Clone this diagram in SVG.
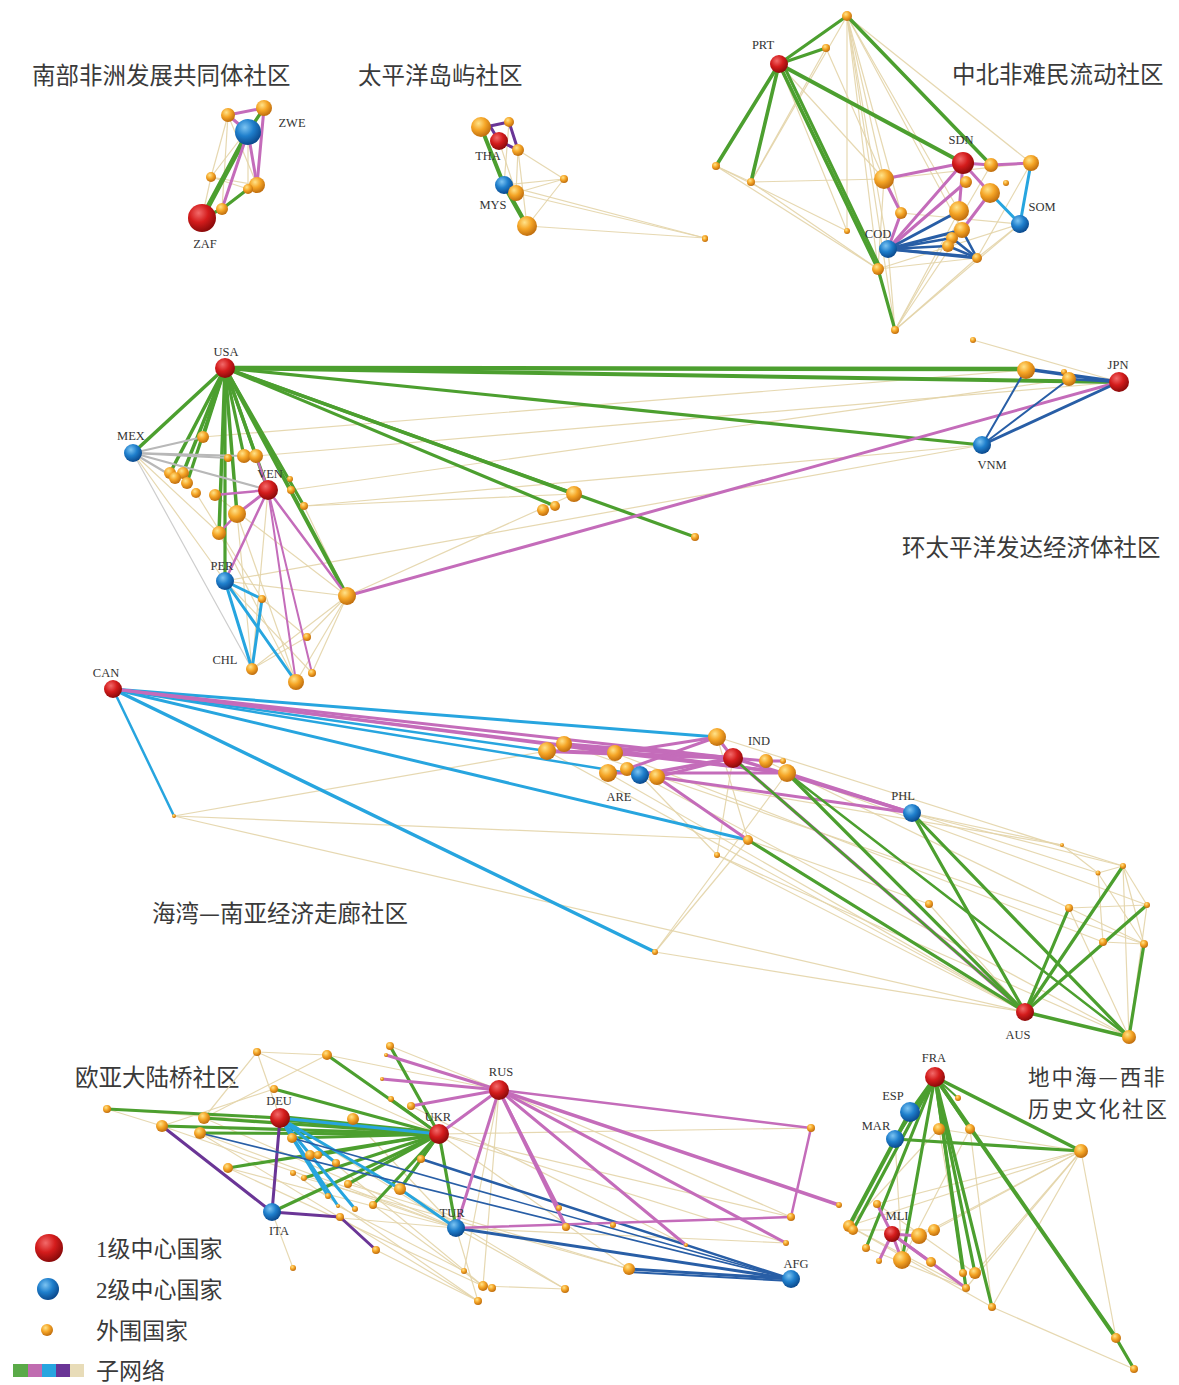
<svg xmlns="http://www.w3.org/2000/svg" width="1179" height="1385" viewBox="0 0 1179 1385">
<defs>
<radialGradient id="gr" cx="38%" cy="32%" r="68%"><stop offset="0" stop-color="#f26a6a"/><stop offset="0.5" stop-color="#d41c1c"/><stop offset="1" stop-color="#8c0a0a"/></radialGradient>
<radialGradient id="gb" cx="38%" cy="32%" r="68%"><stop offset="0" stop-color="#7cc4f2"/><stop offset="0.5" stop-color="#1f7fcc"/><stop offset="1" stop-color="#0b4a8e"/></radialGradient>
<radialGradient id="go" cx="38%" cy="32%" r="68%"><stop offset="0" stop-color="#ffe38a"/><stop offset="0.5" stop-color="#f5a526"/><stop offset="1" stop-color="#c06e0e"/></radialGradient>
<style>
.r{fill:url(#gr)}.b{fill:url(#gb)}.o{fill:url(#go)}
line{stroke-linecap:round;fill:none}
.t{stroke:#e3d4a8;stroke-width:1.2;opacity:.9}
.g{stroke:#4c9f2f;stroke-width:3.2}
.p{stroke:#c46cba;stroke-width:3}
.c{stroke:#27a5df;stroke-width:3}
.v{stroke:#6a3596;stroke-width:3}
.d{stroke:#285ea6;stroke-width:2.6}
.gy{stroke:#b8b8b8;stroke-width:2.2}
.lb{font-family:"Liberation Serif",serif;font-size:12.5px;fill:#333;text-anchor:middle}
.ti{font-family:"Noto Sans CJK SC",sans-serif;font-size:23.5px;fill:#3a3a3a}
.ti2{font-family:"Noto Sans CJK SC",sans-serif;font-size:21.5px;letter-spacing:2px;fill:#3a3a3a}
.lg{font-family:"Liberation Serif","Noto Sans CJK SC",sans-serif;font-size:23px;fill:#3a3a3a}
</style>
</defs>
<rect width="1179" height="1385" fill="#fff"/>

<g id="titles">
<text class="ti" x="32" y="84">南部非洲发展共同体社区</text>
<text class="ti" x="358" y="84">太平洋岛屿社区</text>
<text class="ti" x="952" y="83">中北非难民流动社区</text>
<text class="ti" x="902" y="556">环太平洋发达经济体社区</text>
<text class="ti" x="152" y="922">海湾—南亚经济走廊社区</text>
<text class="ti" x="75" y="1086">欧亚大陆桥社区</text>
<text class="ti2" x="1028" y="1085">地中海—西非</text>
<text class="ti2" x="1028" y="1117">历史文化社区</text>
</g>

<g id="connectors">
<!-- community 1 -->
<line class="t" x1="228" y1="115" x2="211" y2="177"/><line class="t" x1="228" y1="115" x2="257" y2="185"/><line class="t" x1="264" y1="108" x2="211" y2="177"/><line class="t" x1="211" y1="177" x2="202" y2="218"/><line class="t" x1="211" y1="177" x2="257" y2="185"/><line class="t" x1="211" y1="177" x2="248" y2="189"/><line class="t" x1="228" y1="115" x2="222" y2="209"/><line class="t" x1="248" y1="132" x2="248" y2="189"/>
<line class="g" x1="202" y1="218" x2="248" y2="132" style="stroke-width:5"/><line class="g" x1="248" y1="132" x2="264" y2="108"/><line class="g" x1="202" y1="218" x2="222" y2="209"/><line class="g" x1="222" y1="209" x2="248" y2="189"/>
<line class="p" x1="228" y1="115" x2="264" y2="108"/><line class="p" x1="248" y1="132" x2="257" y2="185"/><line class="p" x1="264" y1="108" x2="257" y2="185"/><line class="p" x1="248" y1="132" x2="222" y2="209"/><line class="p" x1="228" y1="115" x2="248" y2="132"/>
<!-- community 2 -->
<line class="t" x1="518" y1="150" x2="564" y2="179"/><line class="t" x1="516" y1="193" x2="564" y2="179"/><line class="t" x1="516" y1="193" x2="705" y2="238"/><line class="t" x1="527" y1="226" x2="705" y2="238"/><line class="t" x1="504" y1="185" x2="705" y2="238"/><line class="t" x1="499" y1="141" x2="516" y2="193"/><line class="t" x1="518" y1="150" x2="516" y2="193"/><line class="t" x1="518" y1="150" x2="527" y2="226"/><line class="t" x1="564" y1="179" x2="527" y2="226"/><line class="t" x1="504" y1="185" x2="564" y2="179"/><line class="t" x1="509" y1="122" x2="504" y2="185"/>
<line class="g" x1="481" y1="127" x2="504" y2="185" style="stroke-width:4"/><line class="g" x1="504" y1="185" x2="527" y2="226" style="stroke-width:4.5"/>
<line class="v" x1="490" y1="126" x2="509" y2="122"/><line class="v" x1="509" y1="122" x2="518" y2="150"/><line class="v" x1="499" y1="141" x2="518" y2="150"/><line class="v" x1="490" y1="126" x2="499" y2="141"/>
<!-- community 3 -->
<line class="t" x1="847" y1="16" x2="884" y2="179"/><line class="t" x1="847" y1="16" x2="901" y2="213"/><line class="t" x1="847" y1="16" x2="888" y2="249"/><line class="t" x1="847" y1="16" x2="959" y2="211"/><line class="t" x1="847" y1="16" x2="878" y2="269"/><line class="t" x1="847" y1="16" x2="1031" y2="163"/><line class="t" x1="847" y1="16" x2="847" y2="231"/><line class="t" x1="847" y1="16" x2="895" y2="330"/><line class="t" x1="847" y1="16" x2="962" y2="230"/><line class="t" x1="847" y1="16" x2="751" y2="182"/><line class="t" x1="779" y1="64" x2="847" y2="231"/><line class="t" x1="779" y1="64" x2="884" y2="179"/><line class="t" x1="716" y1="166" x2="878" y2="269"/><line class="t" x1="716" y1="166" x2="847" y2="231"/><line class="t" x1="751" y1="182" x2="884" y2="179"/><line class="t" x1="751" y1="182" x2="878" y2="269"/><line class="t" x1="716" y1="166" x2="751" y2="182"/><line class="t" x1="888" y1="249" x2="895" y2="330"/><line class="t" x1="962" y1="230" x2="895" y2="330"/><line class="t" x1="977" y1="258" x2="895" y2="330"/><line class="t" x1="1020" y1="224" x2="895" y2="330"/><line class="t" x1="1020" y1="224" x2="878" y2="269"/><line class="t" x1="1020" y1="224" x2="977" y2="258"/><line class="t" x1="1031" y1="163" x2="977" y2="258"/><line class="t" x1="884" y1="179" x2="878" y2="269"/><line class="t" x1="991" y1="165" x2="895" y2="330"/><line class="t" x1="826" y1="48" x2="884" y2="179"/><line class="t" x1="826" y1="48" x2="751" y2="182"/><line class="t" x1="959" y1="211" x2="895" y2="330"/><line class="t" x1="884" y1="179" x2="1031" y2="163"/><line class="t" x1="878" y1="269" x2="977" y2="258"/><line class="t" x1="901" y1="213" x2="1020" y2="224"/>
<line class="g" x1="847" y1="16" x2="779" y2="64"/><line class="g" x1="779" y1="64" x2="826" y2="48"/><line class="g" x1="779" y1="64" x2="716" y2="166" style="stroke-width:3.6"/><line class="g" x1="779" y1="64" x2="751" y2="182" style="stroke-width:3.6"/><line class="g" x1="779" y1="64" x2="963" y2="163" style="stroke-width:4"/><line class="g" x1="779" y1="64" x2="878" y2="269" style="stroke-width:3.6"/><line class="g" x1="783" y1="64" x2="880" y2="267" style="stroke-width:3"/><line class="g" x1="878" y1="269" x2="895" y2="330"/><line class="g" x1="847" y1="16" x2="991" y2="165" style="stroke-width:3.5"/>
<line class="p" x1="963" y1="163" x2="884" y2="179"/><line class="p" x1="884" y1="179" x2="901" y2="213"/><line class="p" x1="901" y1="213" x2="888" y2="249"/><line class="p" x1="963" y1="163" x2="888" y2="249"/><line class="p" x1="966" y1="182" x2="888" y2="249"/><line class="p" x1="963" y1="163" x2="991" y2="165"/><line class="p" x1="991" y1="165" x2="1031" y2="163"/><line class="p" x1="963" y1="163" x2="959" y2="211"/><line class="p" x1="963" y1="163" x2="990" y2="193"/><line class="p" x1="990" y1="193" x2="962" y2="230"/>
<line class="c" x1="1031" y1="163" x2="1020" y2="224"/><line class="c" x1="990" y1="193" x2="1020" y2="224"/>
<line class="d" x1="888" y1="249" x2="959" y2="211" style="stroke-width:3"/><line class="d" x1="888" y1="249" x2="962" y2="230" style="stroke-width:3"/><line class="d" x1="888" y1="249" x2="952" y2="238"/><line class="d" x1="888" y1="249" x2="948" y2="246"/><line class="d" x1="888" y1="249" x2="977" y2="258" style="stroke-width:3"/><line class="d" x1="962" y1="230" x2="977" y2="258"/><line class="d" x1="952" y1="238" x2="977" y2="258"/><line class="d" x1="948" y1="246" x2="977" y2="258"/><line class="d" x1="888" y1="249" x2="966" y2="256"/>
<!-- community 4 -->
<line class="t" x1="973" y1="340" x2="1119" y2="382"/><line class="t" x1="203" y1="437" x2="1026" y2="370"/><line class="t" x1="291" y1="490" x2="1069" y2="379"/><line class="t" x1="304" y1="506" x2="982" y2="445"/><line class="t" x1="225" y1="581" x2="982" y2="445"/><line class="t" x1="225" y1="368" x2="1119" y2="382"/><line class="t" x1="256" y1="456" x2="1119" y2="382"/><line class="t" x1="133" y1="453" x2="252" y2="669" style="stroke:#c8c8c8"/><line class="t" x1="133" y1="453" x2="219" y2="533"/><line class="t" x1="133" y1="453" x2="225" y2="581"/><line class="t" x1="237" y1="514" x2="252" y2="669"/><line class="t" x1="237" y1="514" x2="296" y2="682"/><line class="t" x1="225" y1="581" x2="347" y2="596"/><line class="t" x1="262" y1="599" x2="307" y2="637"/><line class="t" x1="347" y1="596" x2="296" y2="682"/><line class="t" x1="347" y1="596" x2="312" y2="673"/><line class="t" x1="347" y1="596" x2="252" y2="669"/><line class="t" x1="347" y1="596" x2="307" y2="637"/><line class="t" x1="219" y1="533" x2="296" y2="682"/><line class="t" x1="225" y1="581" x2="312" y2="673"/><line class="t" x1="215" y1="495" x2="347" y2="596"/><line class="t" x1="268" y1="490" x2="252" y2="669"/><line class="t" x1="304" y1="506" x2="347" y2="596"/><line class="t" x1="196" y1="493" x2="262" y2="599"/><line class="t" x1="304" y1="506" x2="574" y2="494"/><line class="t" x1="347" y1="596" x2="574" y2="494"/><line class="t" x1="252" y1="669" x2="307" y2="637"/>
<line class="g" x1="225" y1="368" x2="1026" y2="369" style="stroke-width:4.5"/><line class="g" x1="225" y1="368" x2="1119" y2="382" style="stroke-width:4"/><line class="g" x1="225" y1="368" x2="982" y2="445"/><line class="g" x1="225" y1="368" x2="574" y2="494" style="stroke-width:3.5"/><line class="g" x1="225" y1="368" x2="555" y2="506"/><line class="g" x1="225" y1="368" x2="695" y2="537"/><line class="g" x1="225" y1="368" x2="133" y2="453" style="stroke-width:3.5"/><line class="g" x1="225" y1="368" x2="203" y2="437" style="stroke-width:3.5"/><line class="g" x1="225" y1="368" x2="170" y2="473" style="stroke-width:3.5"/><line class="g" x1="225" y1="368" x2="183" y2="473" style="stroke-width:3.5"/><line class="g" x1="225" y1="368" x2="187" y2="483"/><line class="g" x1="225" y1="368" x2="219" y2="533" style="stroke-width:3.5"/><line class="g" x1="225" y1="368" x2="237" y2="514" style="stroke-width:3.5"/><line class="g" x1="225" y1="368" x2="225" y2="581"/><line class="g" x1="225" y1="368" x2="268" y2="490" style="stroke-width:3.5"/><line class="g" x1="225" y1="368" x2="244" y2="456"/><line class="g" x1="225" y1="368" x2="256" y2="456"/><line class="g" x1="225" y1="368" x2="304" y2="506"/><line class="g" x1="225" y1="368" x2="347" y2="596" style="stroke-width:4"/>
<line class="gy" x1="133" y1="453" x2="203" y2="437"/><line class="gy" x1="133" y1="453" x2="228" y2="458"/><line class="gy" x1="133" y1="453" x2="244" y2="456"/><line class="gy" x1="133" y1="453" x2="268" y2="490"/><line class="gy" x1="133" y1="453" x2="175" y2="478"/>
<line class="p" x1="268" y1="490" x2="215" y2="495" style="stroke-width:2.5"/><line class="p" x1="268" y1="490" x2="237" y2="514"/><line class="p" x1="237" y1="514" x2="219" y2="533" style="stroke-width:2.5"/><line class="p" x1="268" y1="490" x2="225" y2="581" style="stroke-width:2.5"/><line class="p" x1="268" y1="490" x2="296" y2="682" style="stroke-width:2"/><line class="p" x1="268" y1="490" x2="312" y2="673" style="stroke-width:2"/><line class="p" x1="268" y1="490" x2="347" y2="596" style="stroke-width:2.5"/><line class="p" x1="347" y1="596" x2="1119" y2="382"/><line class="p" x1="268" y1="490" x2="256" y2="456" style="stroke-width:2.5"/>
<line class="c" x1="225" y1="581" x2="262" y2="599"/><line class="c" x1="225" y1="581" x2="252" y2="669"/><line class="c" x1="262" y1="599" x2="252" y2="669"/><line class="c" x1="225" y1="581" x2="296" y2="682"/>
<line class="d" x1="1026" y1="369" x2="1119" y2="382" style="stroke-width:3.5"/><line class="d" x1="1069" y1="379" x2="1119" y2="382"/><line class="d" x1="982" y1="445" x2="1026" y2="369" style="stroke-width:2"/><line class="d" x1="982" y1="445" x2="1069" y2="379" style="stroke-width:2"/><line class="d" x1="982" y1="445" x2="1119" y2="382" style="stroke-width:3"/>
<!-- community 5 -->
<line class="t" x1="547" y1="751" x2="1025" y2="1012"/><line class="t" x1="608" y1="773" x2="1025" y2="1012"/><line class="t" x1="640" y1="775" x2="1129" y2="1037"/><line class="t" x1="657" y1="777" x2="1062" y2="845"/><line class="t" x1="717" y1="737" x2="1123" y2="866"/><line class="t" x1="787" y1="773" x2="1147" y2="905"/><line class="t" x1="787" y1="773" x2="1098" y2="873"/><line class="t" x1="174" y1="816" x2="748" y2="840"/><line class="t" x1="174" y1="816" x2="1025" y2="1012"/><line class="t" x1="655" y1="952" x2="1025" y2="1012"/><line class="t" x1="655" y1="952" x2="748" y2="840"/><line class="t" x1="655" y1="952" x2="787" y2="773"/><line class="t" x1="717" y1="855" x2="1129" y2="1037"/><line class="t" x1="1098" y1="873" x2="1123" y2="866"/><line class="t" x1="1123" y1="866" x2="1147" y2="905"/><line class="t" x1="1123" y1="866" x2="1144" y2="944"/><line class="t" x1="1069" y1="908" x2="1144" y2="944"/><line class="t" x1="1103" y1="942" x2="1144" y2="944"/><line class="t" x1="1098" y1="873" x2="1144" y2="944"/><line class="t" x1="1147" y1="905" x2="1129" y2="1037"/><line class="t" x1="1069" y1="908" x2="1129" y2="1037"/><line class="t" x1="1123" y1="866" x2="1129" y2="1037"/><line class="t" x1="1062" y1="845" x2="1098" y2="873"/><line class="t" x1="929" y1="904" x2="1025" y2="1012"/><line class="t" x1="748" y1="840" x2="929" y2="904"/><line class="t" x1="717" y1="855" x2="1025" y2="1012"/><line class="t" x1="912" y1="813" x2="1123" y2="866"/><line class="t" x1="912" y1="813" x2="1062" y2="845"/><line class="t" x1="766" y1="761" x2="1069" y2="908"/><line class="t" x1="717" y1="737" x2="748" y2="840"/><line class="t" x1="640" y1="775" x2="717" y2="855"/><line class="t" x1="615" y1="753" x2="1103" y2="942"/><line class="t" x1="564" y1="744" x2="1144" y2="944"/><line class="t" x1="174" y1="816" x2="547" y2="751"/><line class="t" x1="733" y1="758" x2="717" y2="855"/><line class="t" x1="1098" y1="873" x2="1103" y2="942"/><line class="t" x1="1069" y1="908" x2="1147" y2="905"/><line class="t" x1="113" y1="689" x2="787" y2="773"/>
<line class="c" x1="113" y1="689" x2="717" y2="737"/><line class="c" x1="113" y1="689" x2="547" y2="751" style="stroke-width:2.5"/><line class="c" x1="113" y1="689" x2="640" y2="775" style="stroke-width:2.5"/><line class="c" x1="113" y1="689" x2="748" y2="840"/><line class="c" x1="113" y1="689" x2="174" y2="816" style="stroke-width:2.5"/><line class="c" x1="113" y1="689" x2="655" y2="952" style="stroke-width:3.5"/>
<line class="p" x1="113" y1="689" x2="733" y2="758"/><line class="p" x1="113" y1="689" x2="787" y2="773"/><line class="p" x1="113" y1="689" x2="615" y2="753" style="stroke-width:2.5"/><line class="p" x1="547" y1="751" x2="733" y2="758" style="stroke-width:4"/><line class="p" x1="564" y1="744" x2="733" y2="758" style="stroke-width:3.5"/><line class="p" x1="615" y1="753" x2="717" y2="737"/><line class="p" x1="615" y1="753" x2="787" y2="773"/><line class="p" x1="640" y1="775" x2="733" y2="758" style="stroke-width:3.5"/><line class="p" x1="657" y1="777" x2="733" y2="758"/><line class="p" x1="657" y1="777" x2="912" y2="813"/><line class="p" x1="733" y1="758" x2="912" y2="813" style="stroke-width:3.5"/><line class="p" x1="787" y1="773" x2="912" y2="813"/><line class="p" x1="717" y1="737" x2="733" y2="758"/><line class="p" x1="608" y1="773" x2="787" y2="773"/><line class="p" x1="733" y1="758" x2="766" y2="761"/><line class="p" x1="766" y1="761" x2="783" y2="761"/><line class="p" x1="657" y1="777" x2="748" y2="840"/><line class="p" x1="733" y1="758" x2="1025" y2="1012" style="stroke-width:3.5"/><line class="p" x1="564" y1="744" x2="787" y2="773"/><line class="p" x1="627" y1="769" x2="717" y2="737"/>
<line class="g" x1="748" y1="840" x2="1025" y2="1012"/><line class="g" x1="912" y1="813" x2="1025" y2="1012"/><line class="g" x1="912" y1="813" x2="1129" y2="1037"/><line class="g" x1="733" y1="758" x2="1025" y2="1012" style="stroke-width:2.5"/><line class="g" x1="787" y1="773" x2="1025" y2="1012"/><line class="g" x1="787" y1="773" x2="1129" y2="1037" style="stroke-width:2.5"/><line class="g" x1="1025" y1="1012" x2="1069" y2="908"/><line class="g" x1="1025" y1="1012" x2="1123" y2="866"/><line class="g" x1="1025" y1="1012" x2="1147" y2="905"/><line class="g" x1="1025" y1="1012" x2="1129" y2="1037" style="stroke-width:3.5"/><line class="g" x1="1129" y1="1037" x2="1144" y2="944"/>
<!-- community 6 -->
<line class="t" x1="257" y1="1052" x2="327" y2="1055"/><line class="t" x1="257" y1="1052" x2="439" y2="1134"/><line class="t" x1="257" y1="1052" x2="280" y2="1118"/><line class="t" x1="107" y1="1109" x2="162" y2="1126"/><line class="t" x1="162" y1="1126" x2="456" y2="1228"/><line class="t" x1="204" y1="1118" x2="456" y2="1228"/><line class="t" x1="280" y1="1118" x2="456" y2="1228"/><line class="t" x1="280" y1="1118" x2="483" y2="1286"/><line class="t" x1="272" y1="1212" x2="293" y2="1268"/><line class="t" x1="272" y1="1212" x2="456" y2="1228"/><line class="t" x1="228" y1="1168" x2="483" y2="1286"/><line class="t" x1="200" y1="1133" x2="478" y2="1301"/><line class="t" x1="456" y1="1228" x2="478" y2="1301"/><line class="t" x1="456" y1="1228" x2="565" y2="1289"/><line class="t" x1="483" y1="1286" x2="565" y2="1289"/><line class="t" x1="439" y1="1134" x2="629" y2="1269"/><line class="t" x1="499" y1="1090" x2="483" y2="1286"/><line class="t" x1="499" y1="1090" x2="464" y2="1271"/><line class="t" x1="439" y1="1134" x2="791" y2="1217"/><line class="t" x1="327" y1="1055" x2="499" y2="1090"/><line class="t" x1="390" y1="1046" x2="499" y2="1090"/><line class="t" x1="456" y1="1228" x2="786" y2="1243"/><line class="t" x1="411" y1="1106" x2="686" y2="1245"/><line class="t" x1="162" y1="1126" x2="439" y2="1134"/><line class="t" x1="107" y1="1109" x2="439" y2="1134"/><line class="t" x1="200" y1="1133" x2="456" y2="1228"/><line class="t" x1="228" y1="1168" x2="456" y2="1228"/><line class="t" x1="304" y1="1178" x2="629" y2="1269"/><line class="t" x1="348" y1="1184" x2="629" y2="1269"/><line class="t" x1="400" y1="1189" x2="565" y2="1289"/><line class="t" x1="373" y1="1205" x2="483" y2="1286"/><line class="t" x1="338" y1="1206" x2="464" y2="1271"/><line class="t" x1="439" y1="1134" x2="786" y2="1243"/><line class="t" x1="499" y1="1090" x2="791" y2="1217"/><line class="t" x1="257" y1="1052" x2="204" y2="1118"/><line class="t" x1="327" y1="1055" x2="204" y2="1118"/><line class="t" x1="274" y1="1089" x2="162" y2="1126"/><line class="t" x1="353" y1="1119" x2="456" y2="1228"/><line class="t" x1="293" y1="1173" x2="478" y2="1301"/><line class="t" x1="376" y1="1250" x2="478" y2="1301"/><line class="t" x1="421" y1="1159" x2="791" y2="1279"/><line class="t" x1="439" y1="1134" x2="811" y2="1128"/>
<line class="g" x1="280" y1="1118" x2="439" y2="1134" style="stroke-width:6"/><line class="g" x1="107" y1="1109" x2="280" y2="1118"/><line class="g" x1="162" y1="1126" x2="439" y2="1134"/><line class="g" x1="204" y1="1118" x2="439" y2="1134"/><line class="g" x1="200" y1="1133" x2="439" y2="1134"/><line class="g" x1="327" y1="1055" x2="439" y2="1134"/><line class="g" x1="274" y1="1089" x2="439" y2="1134"/><line class="g" x1="390" y1="1046" x2="439" y2="1134"/><line class="g" x1="391" y1="1099" x2="439" y2="1134" style="stroke-width:2.5"/><line class="g" x1="228" y1="1168" x2="439" y2="1134"/><line class="g" x1="272" y1="1212" x2="439" y2="1134"/><line class="g" x1="304" y1="1178" x2="439" y2="1134"/><line class="g" x1="318" y1="1155" x2="439" y2="1134"/><line class="g" x1="348" y1="1184" x2="439" y2="1134"/><line class="g" x1="400" y1="1189" x2="439" y2="1134"/><line class="g" x1="373" y1="1205" x2="439" y2="1134"/><line class="g" x1="439" y1="1134" x2="456" y2="1228"/><line class="g" x1="421" y1="1159" x2="439" y2="1134"/><line class="g" x1="292" y1="1138" x2="439" y2="1134"/>
<line class="c" x1="280" y1="1118" x2="439" y2="1134"/><line class="c" x1="280" y1="1118" x2="328" y2="1196"/><line class="c" x1="280" y1="1118" x2="355" y2="1209"/><line class="c" x1="280" y1="1118" x2="336" y2="1163"/><line class="c" x1="280" y1="1118" x2="338" y2="1206"/><line class="c" x1="280" y1="1118" x2="400" y2="1189"/><line class="c" x1="400" y1="1189" x2="456" y2="1228"/>
<line class="v" x1="162" y1="1126" x2="272" y2="1212"/><line class="v" x1="280" y1="1118" x2="272" y2="1212"/><line class="v" x1="272" y1="1212" x2="340" y2="1217"/><line class="v" x1="340" y1="1217" x2="376" y2="1250"/>
<line class="d" x1="200" y1="1133" x2="791" y2="1279" style="stroke-width:1.8"/><line class="d" x1="292" y1="1138" x2="791" y2="1279" style="stroke-width:1.5"/><line class="d" x1="421" y1="1159" x2="791" y2="1279"/><line class="d" x1="456" y1="1228" x2="791" y2="1279" style="stroke-width:3"/><line class="d" x1="629" y1="1269" x2="791" y2="1279" style="stroke-width:3"/><line class="d" x1="629" y1="1272" x2="791" y2="1281" style="stroke-width:2"/>
<line class="p" x1="499" y1="1090" x2="386" y2="1055"/><line class="p" x1="499" y1="1090" x2="382" y2="1079"/><line class="p" x1="499" y1="1090" x2="411" y2="1106"/><line class="p" x1="499" y1="1090" x2="439" y2="1134"/><line class="p" x1="499" y1="1090" x2="456" y2="1228"/><line class="p" x1="499" y1="1090" x2="566" y2="1227" style="stroke-width:3.5"/><line class="p" x1="499" y1="1090" x2="559" y2="1208" style="stroke-width:2.5"/><line class="p" x1="499" y1="1090" x2="686" y2="1245"/><line class="p" x1="499" y1="1090" x2="786" y2="1243"/><line class="p" x1="499" y1="1090" x2="839" y2="1205" style="stroke-width:3.5"/><line class="p" x1="499" y1="1090" x2="811" y2="1128" style="stroke-width:2.5"/><line class="p" x1="811" y1="1128" x2="791" y2="1217" style="stroke-width:2.5"/><line class="p" x1="791" y1="1217" x2="456" y2="1228" style="stroke-width:2.5"/>
<!-- community 7 -->
<line class="t" x1="1081" y1="1151" x2="877" y2="1204"/><line class="t" x1="1081" y1="1151" x2="919" y2="1236"/><line class="t" x1="1081" y1="1151" x2="966" y2="1288"/><line class="t" x1="1081" y1="1151" x2="992" y2="1307"/><line class="t" x1="1081" y1="1151" x2="849" y2="1226"/><line class="t" x1="939" y1="1129" x2="1081" y2="1151"/><line class="t" x1="939" y1="1129" x2="966" y2="1288"/><line class="t" x1="970" y1="1129" x2="902" y2="1260"/><line class="t" x1="849" y1="1226" x2="966" y2="1288"/><line class="t" x1="849" y1="1226" x2="992" y2="1307"/><line class="t" x1="992" y1="1307" x2="1134" y2="1369"/><line class="t" x1="853" y1="1230" x2="934" y2="1230"/><line class="t" x1="895" y1="1139" x2="902" y2="1260"/><line class="t" x1="1081" y1="1151" x2="934" y2="1230"/><line class="t" x1="1081" y1="1151" x2="975" y2="1273"/><line class="t" x1="939" y1="1129" x2="849" y2="1226"/><line class="t" x1="970" y1="1129" x2="992" y2="1307"/><line class="t" x1="866" y1="1248" x2="966" y2="1288"/><line class="t" x1="877" y1="1204" x2="975" y2="1273"/><line class="t" x1="1081" y1="1151" x2="1116" y2="1338"/>
<line class="g" x1="935" y1="1077" x2="910" y2="1112"/><line class="g" x1="935" y1="1077" x2="895" y2="1139"/><line class="g" x1="910" y1="1112" x2="849" y2="1226" style="stroke-width:4"/><line class="g" x1="935" y1="1077" x2="853" y2="1230"/><line class="g" x1="935" y1="1077" x2="866" y2="1248"/><line class="g" x1="935" y1="1077" x2="902" y2="1260"/><line class="g" x1="935" y1="1077" x2="963" y2="1273"/><line class="g" x1="935" y1="1077" x2="975" y2="1273"/><line class="g" x1="935" y1="1077" x2="966" y2="1288"/><line class="g" x1="935" y1="1077" x2="992" y2="1307"/><line class="g" x1="935" y1="1077" x2="1116" y2="1338" style="stroke-width:4"/><line class="g" x1="1116" y1="1338" x2="1134" y2="1369"/><line class="g" x1="935" y1="1077" x2="1081" y2="1151" style="stroke-width:3.5"/><line class="g" x1="895" y1="1139" x2="1081" y2="1151"/><line class="g" x1="935" y1="1077" x2="970" y2="1129"/><line class="g" x1="935" y1="1077" x2="958" y2="1098" style="stroke-width:2"/>
<line class="p" x1="892" y1="1234" x2="877" y2="1204"/><line class="p" x1="892" y1="1234" x2="919" y2="1236"/><line class="p" x1="892" y1="1234" x2="879" y2="1261"/><line class="p" x1="892" y1="1234" x2="966" y2="1288"/><line class="p" x1="892" y1="1234" x2="931" y2="1262"/><line class="p" x1="892" y1="1234" x2="902" y2="1260"/>
</g>

<g id="nodes">
<!-- community 1 -->
<g id="n-c1-1"><circle class="o" cx="228" cy="115" r="7"/></g>
<g id="n-c1-2"><circle class="o" cx="264" cy="108" r="8"/></g>
<g id="n-ZWE"><circle class="b" cx="248" cy="132" r="13"/><text class="lb" x="292" y="127">ZWE</text></g>
<g id="n-c1-3"><circle class="o" cx="211" cy="177" r="5"/></g>
<g id="n-c1-4"><circle class="o" cx="257" cy="185" r="8"/></g>
<g id="n-c1-5"><circle class="o" cx="248" cy="189" r="5"/></g>
<g id="n-c1-6"><circle class="o" cx="222" cy="209" r="6"/></g>
<g id="n-ZAF"><circle class="r" cx="202" cy="218" r="14"/><text class="lb" x="205" y="248">ZAF</text></g>
<!-- community 2 -->
<g id="n-c2-1"><circle class="o" cx="481" cy="127" r="10"/></g>
<g id="n-c2-2"><circle class="o" cx="509" cy="122" r="5"/></g>
<g id="n-THA"><circle class="r" cx="499" cy="141" r="9"/><text class="lb" x="488" y="160">THA</text></g>
<g id="n-c2-3"><circle class="o" cx="518" cy="150" r="6"/></g>
<g id="n-c2-4"><circle class="o" cx="564" cy="179" r="4"/></g>
<g id="n-MYS"><circle class="b" cx="504" cy="185" r="9"/><text class="lb" x="493" y="209">MYS</text></g>
<g id="n-c2-5"><circle class="o" cx="516" cy="193" r="8"/></g>
<g id="n-c2-6"><circle class="o" cx="527" cy="226" r="10"/></g>
<g id="n-c2-7"><circle class="o" cx="705" cy="238" r="3"/></g>
<!-- community 3 -->
<g id="n-c3-1"><circle class="o" cx="847" cy="16" r="5"/></g>
<g id="n-c3-2"><circle class="o" cx="826" cy="48" r="4"/></g>
<g id="n-PRT"><circle class="r" cx="779" cy="64" r="9"/><text class="lb" x="763" y="49">PRT</text></g>
<g id="n-c3-3"><circle class="o" cx="716" cy="166" r="4"/></g>
<g id="n-c3-4"><circle class="o" cx="751" cy="182" r="4"/></g>
<g id="n-c3-5"><circle class="o" cx="705" cy="239" r="3"/></g>
<g id="n-c3-6"><circle class="o" cx="847" cy="231" r="3"/></g>
<g id="n-c3-7"><circle class="o" cx="884" cy="179" r="10"/></g>
<g id="n-SDN"><circle class="r" cx="963" cy="163" r="11"/><text class="lb" x="961" y="144">SDN</text></g>
<g id="n-c3-8"><circle class="o" cx="991" cy="165" r="7"/></g>
<g id="n-c3-9"><circle class="o" cx="1031" cy="163" r="8"/></g>
<g id="n-c3-10"><circle class="o" cx="966" cy="182" r="6"/></g>
<g id="n-c3-11"><circle class="o" cx="1006" cy="183" r="3"/></g>
<g id="n-c3-12"><circle class="o" cx="990" cy="193" r="10"/></g>
<g id="n-c3-13"><circle class="o" cx="901" cy="213" r="6"/></g>
<g id="n-c3-14"><circle class="o" cx="959" cy="211" r="10"/></g>
<g id="n-SOM"><circle class="b" cx="1020" cy="224" r="9"/><text class="lb" x="1042" y="211">SOM</text></g>
<g id="n-c3-15"><circle class="o" cx="962" cy="230" r="8"/></g>
<g id="n-c3-16"><circle class="o" cx="952" cy="238" r="6"/></g>
<g id="n-c3-17"><circle class="o" cx="948" cy="246" r="6"/></g>
<g id="n-COD"><circle class="b" cx="888" cy="249" r="9"/><text class="lb" x="878" y="238">COD</text></g>
<g id="n-c3-18"><circle class="o" cx="977" cy="258" r="5"/></g>
<g id="n-c3-19"><circle class="o" cx="878" cy="269" r="6"/></g>
<g id="n-c3-20"><circle class="o" cx="895" cy="330" r="4"/></g>
<!-- community 4 -->
<g id="n-USA"><circle class="r" cx="225" cy="368" r="10"/><text class="lb" x="226" y="356">USA</text></g>
<g id="n-MEX"><circle class="b" cx="133" cy="453" r="9"/><text class="lb" x="131" y="440">MEX</text></g>
<g id="n-c4-1"><circle class="o" cx="203" cy="437" r="6"/></g>
<g id="n-c4-2"><circle class="o" cx="228" cy="458" r="4"/></g>
<g id="n-c4-3"><circle class="o" cx="244" cy="456" r="7"/></g>
<g id="n-c4-4"><circle class="o" cx="256" cy="456" r="7"/></g>
<g id="n-c4-5"><circle class="o" cx="170" cy="473" r="6"/></g>
<g id="n-c4-6"><circle class="o" cx="183" cy="473" r="6"/></g>
<g id="n-c4-7"><circle class="o" cx="175" cy="478" r="6"/></g>
<g id="n-c4-8"><circle class="o" cx="187" cy="483" r="6"/></g>
<g id="n-c4-9"><circle class="o" cx="196" cy="493" r="5"/></g>
<g id="n-c4-10"><circle class="o" cx="215" cy="495" r="6"/></g>
<g id="n-VEN"><circle class="r" cx="268" cy="490" r="10"/><text class="lb" x="270" y="478">VEN</text></g>
<g id="n-c4-11"><circle class="o" cx="290" cy="479" r="3"/></g>
<g id="n-c4-12"><circle class="o" cx="291" cy="490" r="4"/></g>
<g id="n-c4-13"><circle class="o" cx="304" cy="506" r="4"/></g>
<g id="n-c4-14"><circle class="o" cx="237" cy="514" r="9"/></g>
<g id="n-c4-15"><circle class="o" cx="219" cy="533" r="7"/></g>
<g id="n-PER"><circle class="b" cx="225" cy="581" r="9"/><text class="lb" x="222" y="570">PER</text></g>
<g id="n-c4-16"><circle class="o" cx="347" cy="596" r="9"/></g>
<g id="n-c4-17"><circle class="o" cx="262" cy="599" r="4"/></g>
<g id="n-c4-18"><circle class="o" cx="307" cy="637" r="4"/></g>
<g id="n-CHL"><circle class="o" cx="252" cy="669" r="6"/><text class="lb" x="225" y="664">CHL</text></g>
<g id="n-c4-19"><circle class="o" cx="312" cy="673" r="4"/></g>
<g id="n-c4-20"><circle class="o" cx="296" cy="682" r="8"/></g>
<g id="n-c4-21"><circle class="o" cx="574" cy="494" r="8"/></g>
<g id="n-c4-22"><circle class="o" cx="555" cy="506" r="5"/></g>
<g id="n-c4-23"><circle class="o" cx="543" cy="510" r="6"/></g>
<g id="n-c4-24"><circle class="o" cx="695" cy="537" r="4"/></g>
<g id="n-c4-25"><circle class="o" cx="973" cy="340" r="3"/></g>
<g id="n-c4-26"><circle class="o" cx="1026" cy="370" r="9"/></g>
<g id="n-c4-27"><circle class="o" cx="1064" cy="372" r="3"/></g>
<g id="n-c4-28"><circle class="o" cx="1069" cy="379" r="7"/></g>
<g id="n-JPN"><circle class="r" cx="1119" cy="382" r="10"/><text class="lb" x="1118" y="369">JPN</text></g>
<g id="n-VNM"><circle class="b" cx="982" cy="445" r="9"/><text class="lb" x="992" y="469">VNM</text></g>
<!-- community 5 -->
<g id="n-CAN"><circle class="r" cx="113" cy="689" r="9"/><text class="lb" x="106" y="677">CAN</text></g>
<g id="n-c5-1"><circle class="o" cx="174" cy="816" r="2"/></g>
<g id="n-c5-2"><circle class="o" cx="655" cy="952" r="3"/></g>
<g id="n-c5-3"><circle class="o" cx="547" cy="751" r="9"/></g>
<g id="n-c5-4"><circle class="o" cx="564" cy="744" r="8"/></g>
<g id="n-c5-5"><circle class="o" cx="615" cy="753" r="8"/></g>
<g id="n-c5-6"><circle class="o" cx="608" cy="773" r="9"/></g>
<g id="n-c5-7"><circle class="o" cx="627" cy="769" r="7"/></g>
<g id="n-ARE"><circle class="b" cx="640" cy="775" r="9"/><text class="lb" x="619" y="801">ARE</text></g>
<g id="n-c5-8"><circle class="o" cx="657" cy="777" r="8"/></g>
<g id="n-c5-9"><circle class="o" cx="717" cy="737" r="9"/></g>
<g id="n-IND"><circle class="r" cx="733" cy="758" r="10"/><text class="lb" x="759" y="745">IND</text></g>
<g id="n-c5-10"><circle class="o" cx="766" cy="761" r="7"/></g>
<g id="n-c5-11"><circle class="o" cx="783" cy="761" r="3"/></g>
<g id="n-c5-12"><circle class="o" cx="787" cy="773" r="9"/></g>
<g id="n-PHL"><circle class="b" cx="912" cy="813" r="9"/><text class="lb" x="903" y="800">PHL</text></g>
<g id="n-c5-13"><circle class="o" cx="748" cy="840" r="5"/></g>
<g id="n-c5-14"><circle class="o" cx="717" cy="855" r="3"/></g>
<g id="n-c5-15"><circle class="o" cx="1062" cy="845" r="2"/></g>
<g id="n-c5-16"><circle class="o" cx="1098" cy="873" r="2.5"/></g>
<g id="n-c5-17"><circle class="o" cx="1123" cy="866" r="3"/></g>
<g id="n-c5-18"><circle class="o" cx="929" cy="904" r="4"/></g>
<g id="n-c5-19"><circle class="o" cx="1069" cy="908" r="4"/></g>
<g id="n-c5-20"><circle class="o" cx="1147" cy="905" r="3"/></g>
<g id="n-c5-21"><circle class="o" cx="1103" cy="942" r="4"/></g>
<g id="n-c5-22"><circle class="o" cx="1144" cy="944" r="4"/></g>
<g id="n-AUS"><circle class="r" cx="1025" cy="1012" r="9"/><text class="lb" x="1018" y="1039">AUS</text></g>
<g id="n-c5-23"><circle class="o" cx="1129" cy="1037" r="7"/></g>
<!-- community 6 -->
<g id="n-c6-1"><circle class="o" cx="257" cy="1052" r="4"/></g>
<g id="n-c6-2"><circle class="o" cx="327" cy="1055" r="5"/></g>
<g id="n-c6-3"><circle class="o" cx="390" cy="1046" r="4"/></g>
<g id="n-c6-4"><circle class="o" cx="386" cy="1055" r="2"/></g>
<g id="n-c6-5"><circle class="o" cx="107" cy="1109" r="4"/></g>
<g id="n-c6-6"><circle class="o" cx="274" cy="1089" r="4"/></g>
<g id="n-c6-7"><circle class="o" cx="391" cy="1099" r="3"/></g>
<g id="n-c6-8"><circle class="o" cx="382" cy="1079" r="2"/></g>
<g id="n-c6-9"><circle class="o" cx="411" cy="1106" r="4"/></g>
<g id="n-c6-10"><circle class="o" cx="204" cy="1118" r="6"/></g>
<g id="n-c6-11"><circle class="o" cx="353" cy="1119" r="6"/></g>
<g id="n-c6-12"><circle class="o" cx="162" cy="1126" r="6"/></g>
<g id="n-c6-13"><circle class="o" cx="200" cy="1133" r="6"/></g>
<g id="n-c6-14"><circle class="o" cx="292" cy="1138" r="5"/></g>
<g id="n-DEU"><circle class="r" cx="280" cy="1118" r="10"/><text class="lb" x="279" y="1105">DEU</text></g>
<g id="n-UKR"><circle class="r" cx="439" cy="1134" r="10"/><text class="lb" x="438" y="1121">UKR</text></g>
<g id="n-c6-15"><circle class="o" cx="310" cy="1155" r="5"/></g>
<g id="n-c6-16"><circle class="o" cx="318" cy="1155" r="4"/></g>
<g id="n-c6-17"><circle class="o" cx="336" cy="1163" r="4"/></g>
<g id="n-c6-18"><circle class="o" cx="421" cy="1159" r="4"/></g>
<g id="n-c6-19"><circle class="o" cx="228" cy="1168" r="5"/></g>
<g id="n-c6-20"><circle class="o" cx="293" cy="1173" r="3"/></g>
<g id="n-c6-21"><circle class="o" cx="304" cy="1178" r="3"/></g>
<g id="n-c6-22"><circle class="o" cx="348" cy="1184" r="4"/></g>
<g id="n-c6-23"><circle class="o" cx="400" cy="1189" r="6"/></g>
<g id="n-c6-24"><circle class="o" cx="328" cy="1196" r="3"/></g>
<g id="n-c6-25"><circle class="o" cx="373" cy="1205" r="4"/></g>
<g id="n-c6-26"><circle class="o" cx="338" cy="1206" r="2"/></g>
<g id="n-c6-27"><circle class="o" cx="355" cy="1209" r="3"/></g>
<g id="n-ITA"><circle class="b" cx="272" cy="1212" r="9"/><text class="lb" x="279" y="1235">ITA</text></g>
<g id="n-c6-28"><circle class="o" cx="340" cy="1217" r="4"/></g>
<g id="n-TUR"><circle class="b" cx="456" cy="1228" r="9"/><text class="lb" x="452" y="1217">TUR</text></g>
<g id="n-c6-29"><circle class="o" cx="376" cy="1250" r="4"/></g>
<g id="n-c6-30"><circle class="o" cx="293" cy="1268" r="3"/></g>
<g id="n-c6-31"><circle class="o" cx="464" cy="1271" r="3"/></g>
<g id="n-RUS"><circle class="r" cx="499" cy="1090" r="10"/><text class="lb" x="501" y="1076">RUS</text></g>
<g id="n-c6-32"><circle class="o" cx="811" cy="1128" r="4"/></g>
<g id="n-c6-33"><circle class="o" cx="839" cy="1205" r="3"/></g>
<g id="n-c6-34"><circle class="o" cx="791" cy="1217" r="4"/></g>
<g id="n-c6-35"><circle class="o" cx="559" cy="1208" r="3"/></g>
<g id="n-c6-36"><circle class="o" cx="566" cy="1227" r="4"/></g>
<g id="n-c6-37"><circle class="o" cx="613" cy="1225" r="3"/></g>
<g id="n-c6-38"><circle class="o" cx="786" cy="1243" r="3"/></g>
<g id="n-c6-39"><circle class="o" cx="686" cy="1245" r="2"/></g>
<g id="n-c6-40"><circle class="o" cx="629" cy="1269" r="6"/></g>
<g id="n-AFG"><circle class="b" cx="791" cy="1279" r="9"/><text class="lb" x="796" y="1268">AFG</text></g>
<g id="n-c6-41"><circle class="o" cx="483" cy="1286" r="5"/></g>
<g id="n-c6-42"><circle class="o" cx="492" cy="1288" r="4"/></g>
<g id="n-c6-43"><circle class="o" cx="565" cy="1289" r="4"/></g>
<g id="n-c6-44"><circle class="o" cx="478" cy="1301" r="4"/></g>
<!-- community 7 -->
<g id="n-FRA"><circle class="r" cx="935" cy="1077" r="10"/><text class="lb" x="934" y="1062">FRA</text></g>
<g id="n-c7-1"><circle class="o" cx="958" cy="1098" r="3"/></g>
<g id="n-ESP"><circle class="b" cx="910" cy="1112" r="10"/><text class="lb" x="893" y="1100">ESP</text></g>
<g id="n-c7-2"><circle class="o" cx="939" cy="1129" r="6"/></g>
<g id="n-c7-3"><circle class="o" cx="970" cy="1129" r="5"/></g>
<g id="n-MAR"><circle class="b" cx="895" cy="1139" r="9"/><text class="lb" x="876" y="1130">MAR</text></g>
<g id="n-c7-4"><circle class="o" cx="1081" cy="1151" r="7"/></g>
<g id="n-c7-5"><circle class="o" cx="877" cy="1204" r="4"/></g>
<g id="n-c7-6"><circle class="o" cx="849" cy="1226" r="6"/></g>
<g id="n-c7-7"><circle class="o" cx="853" cy="1230" r="5"/></g>
<g id="n-MLI"><circle class="r" cx="892" cy="1234" r="8"/><text class="lb" x="897" y="1220">MLI</text></g>
<g id="n-c7-8"><circle class="o" cx="919" cy="1236" r="8"/></g>
<g id="n-c7-9"><circle class="o" cx="934" cy="1230" r="6"/></g>
<g id="n-c7-10"><circle class="o" cx="866" cy="1248" r="4"/></g>
<g id="n-c7-11"><circle class="o" cx="879" cy="1261" r="3"/></g>
<g id="n-c7-12"><circle class="o" cx="902" cy="1260" r="9"/></g>
<g id="n-c7-13"><circle class="o" cx="931" cy="1262" r="5"/></g>
<g id="n-c7-14"><circle class="o" cx="963" cy="1273" r="4"/></g>
<g id="n-c7-15"><circle class="o" cx="975" cy="1273" r="6"/></g>
<g id="n-c7-16"><circle class="o" cx="966" cy="1288" r="4"/></g>
<g id="n-c7-17"><circle class="o" cx="992" cy="1307" r="4"/></g>
<g id="n-c7-18"><circle class="o" cx="1116" cy="1338" r="5"/></g>
<g id="n-c7-19"><circle class="o" cx="1134" cy="1369" r="4"/></g>
</g>

<g id="legend">
<circle class="r" cx="49" cy="1248" r="14"/>
<text class="lg" x="96" y="1257">1级中心国家</text>
<circle class="b" cx="48" cy="1289" r="11"/>
<text class="lg" x="96" y="1298">2级中心国家</text>
<circle class="o" cx="47" cy="1330" r="6"/>
<text class="lg" x="96" y="1339">外围国家</text>
<rect x="13" y="1364" width="15" height="13" fill="#5aaa48"/>
<rect x="28" y="1364" width="14" height="13" fill="#c06cb0"/>
<rect x="42" y="1364" width="14" height="13" fill="#27a5df"/>
<rect x="56" y="1364" width="14" height="13" fill="#6a3596"/>
<rect x="70" y="1364" width="14" height="13" fill="#e8dcb8"/>
<text class="lg" x="96" y="1379">子网络</text>
</g>
</svg>
